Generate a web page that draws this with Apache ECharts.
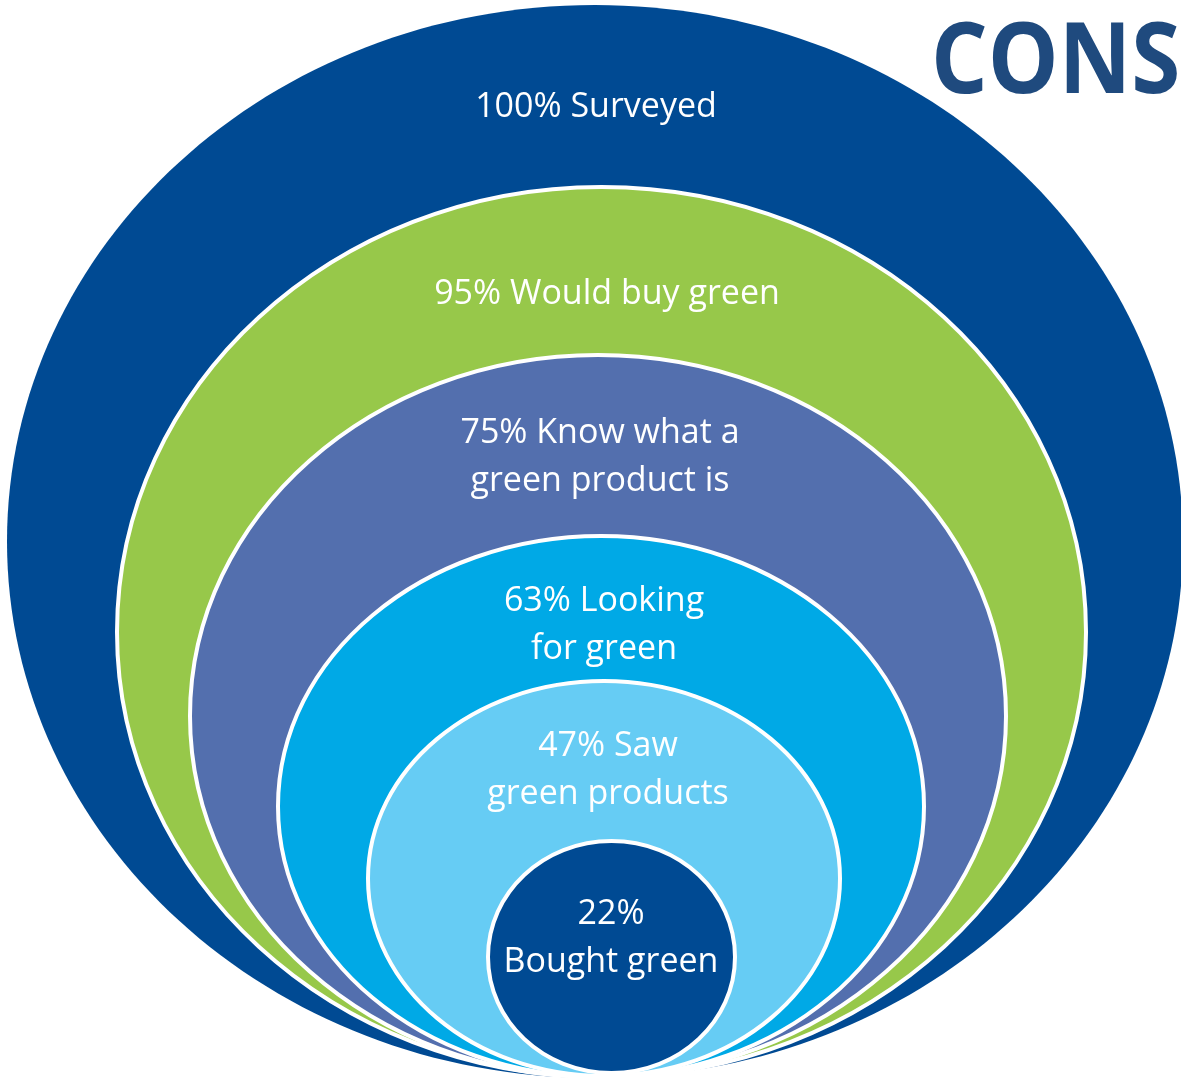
<!DOCTYPE html>
<html>
<head>
<meta charset="utf-8">
<style>html,body{margin:0;padding:0;background:#fff}#chart{width:1181px;height:1082px}</style>
<script src="https://cdn.jsdelivr.net/npm/echarts@6/dist/echarts.min.js"></script>
</head>
<body>
<div id="chart"></div>
<script>
// ---- data ----
const categories = ['Surveyed', 'Would buy green', 'Know what a green product is', 'Looking for green', 'Saw green products', 'Bought green'];
const values = [100, 95, 75, 63, 47, 22];
const labels = [
  '100% Surveyed',
  '95% Would buy green',
  '75% Know what a\ngreen product is',
  '63% Looking\nfor green',
  '47% Saw\ngreen products',
  '22%\nBought green'
];
const titleText = 'CONS';

// ---- layout (diagram units, not data) ----
// each ring: [left, top, right, bottom, labelX, labelY]
const ringLayout = [
  [7, 5, 1183, 1078, 596, 107],
  [117, 187, 1086, 1077, 607, 294],
  [190, 355, 1006, 1077, 600, 457],
  [278, 536, 924, 1077, 604, 625],
  [368, 681, 840, 1076, 608, 770],
  [488, 841, 735, 1073, 611, 938]
];
const ringColors = ['#004A93', '#97C84A', '#536FAE', '#00A9E6', '#66CCF4', '#004A93'];

const chart = echarts.init(document.getElementById('chart'));
const seriesData = values.map((v, i) => ({ name: categories[i], value: [i, v] }));

chart.setOption({
  animation: false,
  grid: { left: 0, top: 0, right: 0, bottom: 0 },
  xAxis: { type: 'value', min: 0, max: 1181, show: false },
  yAxis: { type: 'value', min: 0, max: 1082, inverse: true, show: false },
  graphic: [{
    type: 'text',
    left: 931, top: 15,
    scaleX: 0.9,
    style: {
      text: titleText,
      fill: '#1F4A7E',
      font: 'bold 99px "Open Sans", "Noto Sans", sans-serif'
    },
    z: 10
  }],
  series: [{
    type: 'custom',
    coordinateSystem: 'cartesian2d',
    data: seriesData,
    renderItem: function (params, api) {
      const i = api.value(0);
      const L = ringLayout[i];
      const p1 = api.coord([L[0], L[1]]);
      const p2 = api.coord([L[2], L[3]]);
      const lp = api.coord([L[4], L[5]]);
      return {
        type: 'group',
        children: [{
          type: 'ellipse',
          shape: { cx: (p1[0] + p2[0]) / 2, cy: (p1[1] + p2[1]) / 2, rx: Math.abs(p2[0] - p1[0]) / 2, ry: Math.abs(p2[1] - p1[1]) / 2 },
          style: { fill: ringColors[i], stroke: i === 0 ? null : '#ffffff', lineWidth: i === 0 ? 0 : 4 }
        }, {
          type: 'text',
          x: lp[0], y: lp[1],
          z2: 10,
          style: {
            text: labels[i],
            fill: '#ffffff',
            font: '34px "Open Sans", "Noto Sans", sans-serif',
            lineHeight: 48,
            align: 'center',
            verticalAlign: 'middle'
          }
        }]
      };
    }
  }]
});
</script>
</body>
</html>
